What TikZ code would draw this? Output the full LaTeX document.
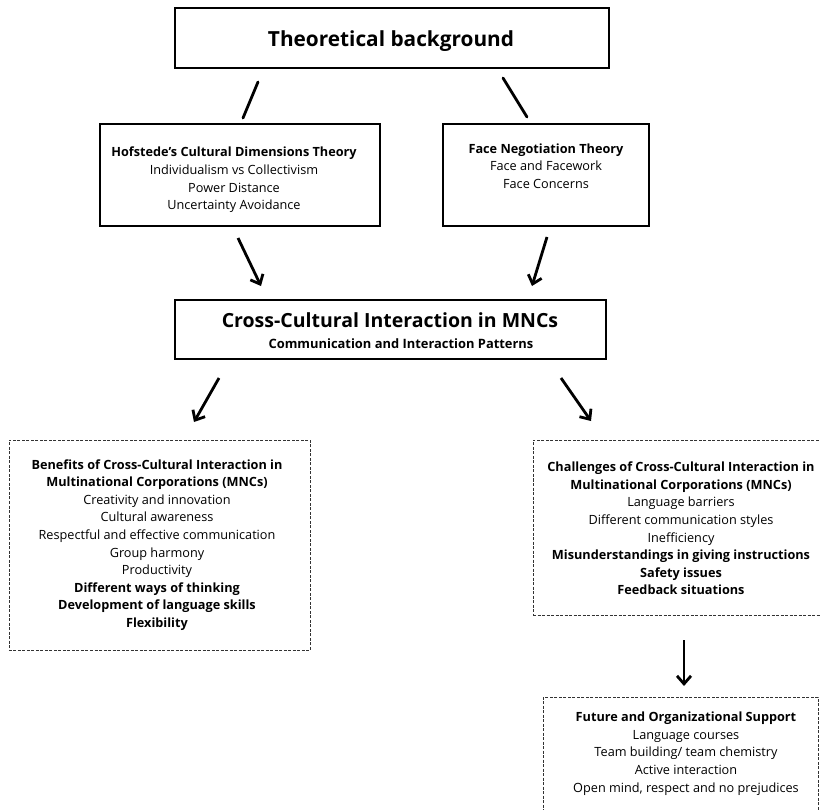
\documentclass[tikz,border=0pt]{standalone}
\usepackage{fontspec}
\setmainfont{Open Sans}
\usetikzlibrary{arrows.meta}
\tikzset{
  solidbox/.style={draw=black, line width=1.5bp, rectangle, inner sep=0pt},
  dashbox/.style={draw=black!80, line width=0.9bp, dash pattern=on 3bp off 1.5bp, rectangle, inner sep=0pt},
  txt/.style={align=center, inner sep=0pt, font=\fontsize{12.7bp}{17.6bp}\selectfont, text=black},
  conn/.style={line width=2.8bp, line cap=round},
  arr/.style={line width=2.8bp, -{Straight Barb[length=8bp, width=14bp, line width=2.8bp]}}
}
\begin{document}
\begin{tikzpicture}[x=1bp, y=-1bp]
\useasboundingbox (0,0) rectangle (820,810);
\clip (0,0) rectangle (820,810);
\fill[white] (0,0) rectangle (820,810);

% boxes
\node[solidbox, minimum width=434bp, minimum height=60bp] (title) at (392,38) {};
\node[txt, font=\bfseries\fontsize{20.8bp}{24bp}\selectfont] (titlet) at (391,41) {Theoretical background};

\node[solidbox, minimum width=280bp, minimum height=102bp] (hof) at (240,175) {};
\node[txt] (hoft) at (234,180) {\textbf{Hofstede’s Cultural Dimensions Theory}\\Individualism vs Collectivism\\Power Distance\\Uncertainty Avoidance};

\node[solidbox, minimum width=206bp, minimum height=102bp] (face) at (546,175) {};
\node[txt] (facet) at (546,166) {\textbf{Face Negotiation Theory}\\Face and Facework\\Face Concerns};

\node[solidbox, minimum width=431bp, minimum height=59bp] (cci) at (390.5,329.5) {};
\node[txt, font=\bfseries\fontsize{19.5bp}{22bp}\selectfont] (ccit) at (390,320) {Cross-Cultural Interaction in MNCs};
\node[txt, font=\bfseries\fontsize{12.9bp}{14bp}\selectfont] (ccis) at (401,344) {Communication and Interaction Patterns};

\node[dashbox, minimum width=301bp, minimum height=210bp] (ben) at (159.5,545) {};
\node[txt] (bent) at (157,545) {\textbf{Benefits of Cross-Cultural Interaction in}\\\textbf{Multinational Corporations (MNCs)}\\Creativity and innovation\\Cultural awareness\\Respectful and effective communication\\Group harmony\\Productivity\\\textbf{Different ways of thinking}\\\textbf{Development of language skills}\\\textbf{Flexibility}};

\node[dashbox, minimum width=296bp, minimum height=175bp] (cha) at (681,527.5) {};
\node[txt] (chat) at (681,528.5) {\textbf{Challenges of Cross-Cultural Interaction in}\\\textbf{Multinational Corporations (MNCs)}\\Language barriers\\Different communication styles\\Inefficiency\\\textbf{Misunderstandings in giving instructions}\\\textbf{Safety issues}\\\textbf{Feedback situations}};

\node[dashbox, minimum width=275bp, minimum height=130bp] (fut) at (680.5,762) {};
\node[txt] (futt) at (686,753.5) {\textbf{Future and Organizational Support}\\Language courses\\Team building/ team chemistry\\Active interaction\\Open mind, respect and no prejudices};

% connector end points
\coordinate (l1a) at (258,82);  \coordinate (l1b) at (243,118);
\coordinate (l2a) at (503,78);  \coordinate (l2b) at (527,117);
\coordinate (a1a) at (238,238); \coordinate (a1b) at (261,286);
\coordinate (a2a) at (547,237); \coordinate (a2b) at (532,286);
\coordinate (a3a) at (219,378); \coordinate (a3b) at (194,422);
\coordinate (a4a) at (561,378); \coordinate (a4b) at (591,421);
\coordinate (a5a) at (684,640); \coordinate (a5b) at (684,686);

\draw[conn] (l1a) -- (l1b);
\draw[conn] (l2a) -- (l2b);
\draw[arr] (a1a) -- (a1b);
\draw[arr] (a2a) -- (a2b);
\draw[arr] (a3a) -- (a3b);
\draw[arr] (a4a) -- (a4b);
\draw[arr] (a5a) -- (a5b);
\end{tikzpicture}
\end{document}
